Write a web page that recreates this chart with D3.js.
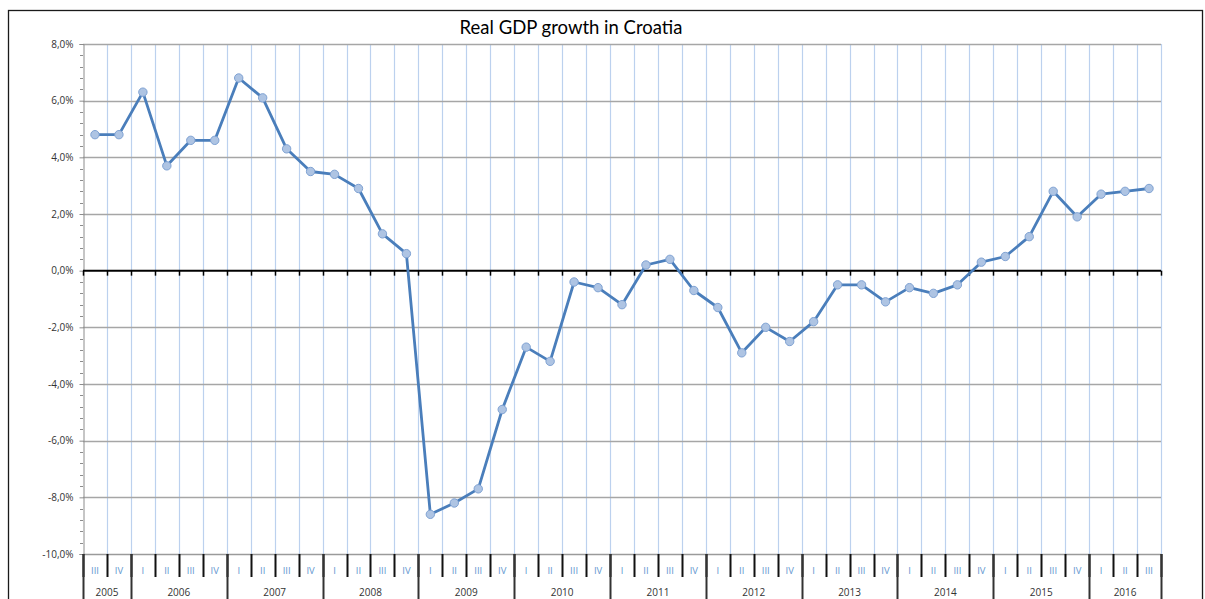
<!DOCTYPE html>
<html><head><meta charset="utf-8">
<script src="https://cdn.jsdelivr.net/npm/d3@7"></script>
<style>body{margin:0;background:#fff;}svg{display:block;}</style>
</head><body>
<svg id="c" width="1205" height="599"></svg>
<script>
const years = ["2005","2006","2007","2008","2009","2010","2011","2012","2013","2014","2015","2016"];
const quarters = ["III","IV","I","II","III","IV","I","II","III","IV","I","II","III","IV","I","II","III","IV","I","II","III","IV","I","II","III","IV","I","II","III","IV","I","II","III","IV","I","II","III","IV","I","II","III","IV","I","II","III"];
const quarterYears = [2005,2005,2006,2006,2006,2006,2007,2007,2007,2007,2008,2008,2008,2008,2009,2009,2009,2009,2010,2010,2010,2010,2011,2011,2011,2011,2012,2012,2012,2012,2013,2013,2013,2013,2014,2014,2014,2014,2015,2015,2015,2015,2016,2016,2016];
const growth = [4.8,4.8,6.3,3.7,4.6,4.6,6.8,6.1,4.3,3.5,3.4,2.9,1.3,0.6,-8.6,-8.2,-7.7,-4.9,-2.7,-3.2,-0.4,-0.6,-1.2,0.2,0.4,-0.7,-1.3,-2.9,-2.0,-2.5,-1.8,-0.5,-0.5,-1.1,-0.6,-0.8,-0.5,0.3,0.5,1.2,2.8,1.9,2.7,2.8,2.9];
const yTicks = [8,6,4,2,0,-2,-4,-6,-8,-10];
const title = "Real GDP growth in Croatia";

const svg = d3.select("#c");
const L = 83, R = 1161, T = 44, B = 554;
const idx = d3.range(growth.length);
const x = d3.scaleBand().domain(idx).range([L, R]).padding(0);
const y = d3.scaleLinear().domain([-10, 8]).range([B, T]);
const fmt = v => v.toFixed(1).replace(".", ",") + "%";

// frame
svg.append("rect").attr("x", 8.5).attr("y", 10.5).attr("width", 1194).attr("height", 600)
  .attr("fill", "#fff").attr("stroke", "#1a1a1a").attr("stroke-width", 1.3);

// title
svg.append("text").attr("x", 571).attr("y", 34).attr("text-anchor", "middle")
  .attr("font-family", "Lato, 'Open Sans', sans-serif").attr("font-size", 18.5).attr("fill", "#000").text(title);

// vertical gridlines at category boundaries
const bounds = idx.map(i => x(i)).concat([R]);
svg.append("g").selectAll("line").data(bounds.slice(1)).join("line")
  .attr("x1", d => Math.round(d) + 0.5).attr("x2", d => Math.round(d) + 0.5)
  .attr("y1", T).attr("y2", B)
  .attr("stroke", "#bcd1ee").attr("stroke-width", 1.2);

// horizontal gridlines
svg.append("g").selectAll("line").data(yTicks.filter(v => v !== 0 && v !== -10)).join("line")
  .attr("x1", L).attr("x2", R).attr("y1", d => Math.round(y(d)) + 0.5).attr("y2", d => Math.round(y(d)) + 0.5)
  .attr("stroke", "#a6a6a6").attr("stroke-width", 1.4);

// y axis
const yAxis = d3.axisLeft(y).tickValues(yTicks).tickFormat(fmt).tickSize(4).tickPadding(6);
const ga = svg.append("g").attr("transform", `translate(${L + 0.5},0)`).call(yAxis);
ga.select(".domain").attr("stroke", "#8c8c8c");
ga.selectAll(".tick line").attr("stroke", "#8c8c8c");
ga.selectAll("text").attr("font-family", "'Open Sans', 'DejaVu Sans', sans-serif").attr("font-size", 10).attr("fill", "#333");
// minor ticks
const minor = d3.range(-10, 8.001, 0.4).filter(v => Math.abs(v / 2 - Math.round(v / 2)) > 0.01);
svg.append("g").selectAll("line").data(minor).join("line")
  .attr("x1", L - 3).attr("x2", L).attr("y1", d => Math.round(y(d)) + 0.5).attr("y2", d => Math.round(y(d)) + 0.5)
  .attr("stroke", "#8c8c8c");

// bottom line at -10
svg.append("line").attr("x1", L).attr("x2", R).attr("y1", B + 0.5).attr("y2", B + 0.5)
  .attr("stroke", "#9a9a9a").attr("stroke-width", 1.4);

// zero line with ticks
svg.append("line").attr("x1", L).attr("x2", R).attr("y1", y(0)).attr("y2", y(0))
  .attr("stroke", "#000").attr("stroke-width", 2);
svg.append("g").selectAll("line").data(bounds).join("line")
  .attr("x1", d => Math.round(d) + 0.5).attr("x2", d => Math.round(d) + 0.5)
  .attr("y1", y(0)).attr("y2", y(0) + 5).attr("stroke", "#000").attr("stroke-width", 1.5);

// category axis: quarter separators
const yearStart = bounds.filter((b, i) => i === 0 || i === bounds.length - 1 || (i < quarterYears.length && quarterYears[i] !== quarterYears[i - 1]));
svg.append("g").selectAll("line").data(bounds).join("line")
  .attr("x1", d => Math.round(d) + 0.5).attr("x2", d => Math.round(d) + 0.5)
  .attr("y1", B).attr("y2", B + 23).attr("stroke", "#111").attr("stroke-width", 2);
svg.append("g").selectAll("line").data(yearStart).join("line")
  .attr("x1", d => Math.round(d) + 0.5).attr("x2", d => Math.round(d) + 0.5)
  .attr("y1", B).attr("y2", 599).attr("stroke", "#333").attr("stroke-width", 2);

svg.append("g").selectAll("text").data(idx).join("text")
  .attr("x", i => x(i) + x.bandwidth() / 2).attr("y", 574).attr("text-anchor", "middle")
  .attr("font-family", "'Open Sans', 'DejaVu Sans', sans-serif").attr("font-size", 9.5).attr("fill", "#6598cf")
  .text(i => quarters[i]);

// year labels
const yearGroups = years.map(yr => {
  const ids = idx.filter(i => quarterYears[i] === +yr);
  return {yr, x0: x(ids[0]), x1: x(ids[ids.length - 1]) + x.bandwidth()};
});
svg.append("g").selectAll("text").data(yearGroups).join("text")
  .attr("x", d => (d.x0 + d.x1) / 2).attr("y", 596).attr("text-anchor", "middle")
  .attr("font-family", "'Open Sans', 'DejaVu Sans', sans-serif").attr("font-size", 10).attr("fill", "#333")
  .text(d => d.yr);

// line
const line = d3.line().x(i => x(i) + x.bandwidth() / 2).y(i => y(growth[i]));
svg.append("path").datum(idx).attr("d", line).attr("fill", "none")
  .attr("stroke", "#4a7ebb").attr("stroke-width", 2.8).attr("stroke-linejoin", "round");

// markers
svg.append("g").selectAll("circle").data(idx).join("circle")
  .attr("cx", i => x(i) + x.bandwidth() / 2).attr("cy", i => y(growth[i])).attr("r", 4.2)
  .attr("fill", "#aec4e3").attr("stroke", "#7fa2d3").attr("stroke-width", 1);
</script>
</body></html>
